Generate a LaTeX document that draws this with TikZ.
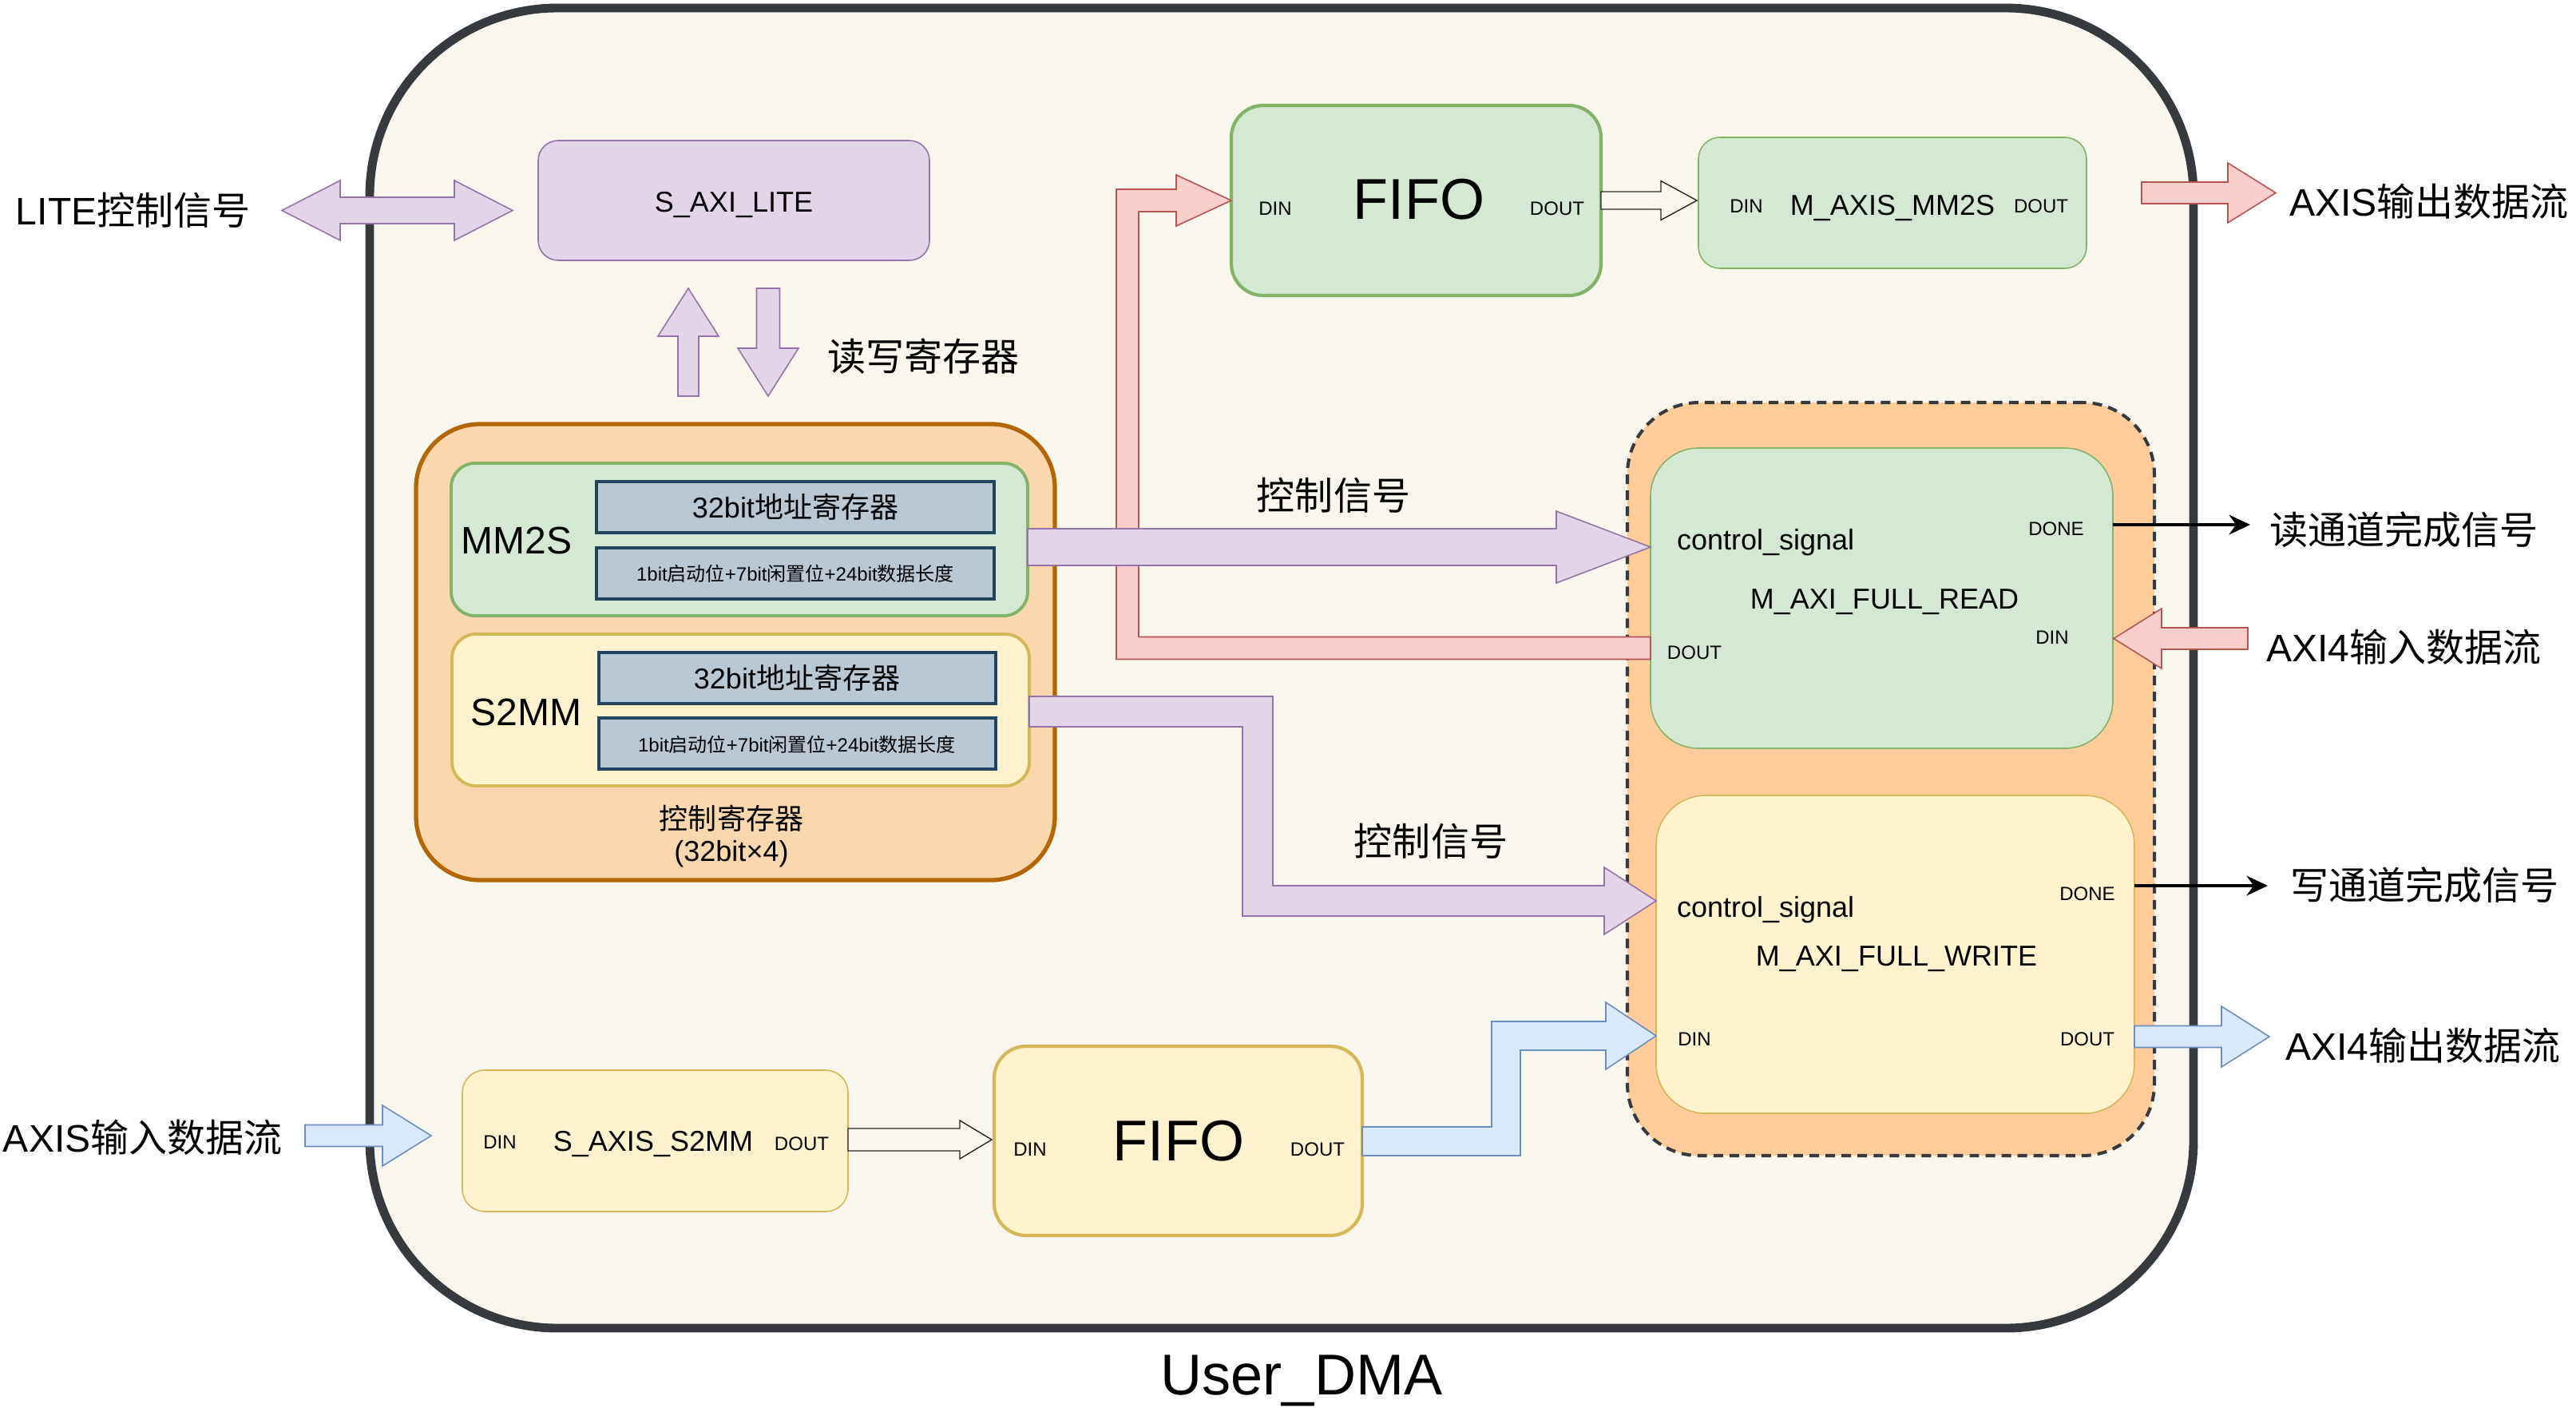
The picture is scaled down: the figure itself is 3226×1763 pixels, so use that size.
\documentclass[tikz,border=0pt]{standalone}
\usepackage{fontspec}
\setmainfont{Liberation Sans}
\newfontfamily\zh{Noto Sans CJK SC}
\usetikzlibrary{arrows.meta,fit}

\definecolor{cream}{HTML}{F9F7ED}
\definecolor{dmaS}{HTML}{36393D}
\definecolor{lavF}{HTML}{E1D5E7}
\definecolor{lavS}{HTML}{9673A6}
\definecolor{grnF}{HTML}{D5E8D4}
\definecolor{grnS}{HTML}{82B366}
\definecolor{yelF}{HTML}{FFF2CC}
\definecolor{yelS}{HTML}{D6B656}
\definecolor{ctrlF}{HTML}{FAD7AC}
\definecolor{ctrlS}{HTML}{B46504}
\definecolor{grpF}{HTML}{FFCC99}
\definecolor{regF}{HTML}{BAC8D3}
\definecolor{regS}{HTML}{23445D}
\definecolor{pinkF}{HTML}{F8CECC}
\definecolor{pinkS}{HTML}{B85450}
\definecolor{blueF}{HTML}{DAE8FC}
\definecolor{blueS}{HTML}{6C8EBF}

\newcommand\szA{\fontsize{20.5pt}{24pt}\selectfont}
\newcommand\szB{\fontsize{13.66pt}{16pt}\selectfont}
\newcommand\szC{\fontsize{10.24pt}{12.5pt}\selectfont}
\newcommand\szD{\fontsize{6.83pt}{8pt}\selectfont}

% horizontal block arrow: style, x tail, x head base, x tip, y centre, body half, head half
\newcommand\blockH[7]{%
  \draw[#1] (#2,{#5-#6}) -- (#3,{#5-#6}) -- (#3,{#5-#7}) -- (#4,#5) -- (#3,{#5+#7}) -- (#3,{#5+#6}) -- (#2,{#5+#6}) -- cycle;}
% vertical block arrow: style, y tail, y head base, y tip, x centre, body half, head half
\newcommand\blockV[7]{%
  \draw[#1] ({#5-#6},#2) -- ({#5-#6},#3) -- ({#5-#7},#3) -- (#5,#4) -- ({#5+#7},#3) -- ({#5+#6},#3) -- ({#5+#6},#2) -- cycle;}

\begin{document}
\begin{tikzpicture}[x=0.01cm,y=-0.01cm,
  boxb/.style={inner sep=0pt, outer sep=0pt},
  txt/.style={inner sep=0pt, outer sep=0pt, text=black},
  lav/.style={fill=lavF, draw=lavS, line width=0.45pt},
  pinkA/.style={fill=pinkF, draw=pinkS, line width=0.45pt},
  blueA/.style={fill=blueF, draw=blueS, line width=0.45pt},
  openA/.style={fill=cream, draw=black!85, line width=0.4pt},
  doneA/.style={draw=black, line width=1.2pt, -{Stealth[length=7.5pt,width=7pt]}},
  ]
\useasboundingbox (0,0) rectangle (3226,1763);

% ---------- outer container ----------
\node[boxb, fit={(463,10) (2747,1663)}, draw=dmaS, fill=cream, line width=3.1pt, rounded corners=2.35cm] (dma) {};
\node[txt] (dmaT) at (1630,1729) {\szA User\_DMA};

% ---------- S_AXI_LITE ----------
\node[txt, anchor=west] (liteT) at (20,263) {\szB LITE{\zh 控制信号}};
\node[boxb, fit={(674,176) (1164,326)}, draw=lavS, fill=lavF, line width=0.45pt, rounded corners=0.25cm] (lite) {};
\node[txt] (liteL) at (919,256) {\szC S\_AXI\_LITE};
\draw[lav] (353,263.5) -- (426,226) -- (426,247) -- (569,247) -- (569,226) -- (642,263.5)
  -- (569,301) -- (569,280) -- (426,280) -- (426,301) -- cycle;

% read/write register arrows
\blockV{lav}{496}{421}{361}{862}{13}{38}
\blockV{lav}{361}{436}{496}{962}{14.5}{38}
\node[txt, anchor=west] (rwT) at (1036,446) {\szB\zh 读写寄存器};

% ---------- control registers ----------
\node[boxb, fit={(521,531) (1321,1102)}, draw=ctrlS, fill=ctrlF, line width=1.5pt, rounded corners=0.8cm] (ctrl) {};
\node[boxb, fit={(565,580) (1287,771)}, draw=grnS, fill=grnF, line width=1.1pt, rounded corners=0.3cm] (mm2s) {};
\node[boxb, fit={(747,603) (1245,667)}, draw=regS, fill=regF, line width=1.1pt] (r1) {};
\node[boxb, fit={(747,686) (1245,750)}, draw=regS, fill=regF, line width=1.1pt] (r2) {};
\node[txt] (r1T) at (996,635) {\szC 32bit{\zh 地址寄存器}};
\node[txt] (r2T) at (996,718) {\szD 1bit{\zh 启动位}+7bit{\zh 闲置位}+24bit{\zh 数据长度}};
\node[txt] (mm2sT) at (647,677) {\szB MM2S};

\node[boxb, fit={(566,794) (1289,984)}, draw=yelS, fill=yelF, line width=1.1pt, rounded corners=0.3cm] (s2mm) {};
\node[boxb, fit={(750,817) (1247,881)}, draw=regS, fill=regF, line width=1.1pt] (r3) {};
\node[boxb, fit={(750,899) (1247,963)}, draw=regS, fill=regF, line width=1.1pt] (r4) {};
\node[txt] (r3T) at (998,849) {\szC 32bit{\zh 地址寄存器}};
\node[txt] (r4T) at (998,932) {\szD 1bit{\zh 启动位}+7bit{\zh 闲置位}+24bit{\zh 数据长度}};
\node[txt] (s2mmT) at (659,892) {\szB S2MM};

\node[txt] (ctrlT1) at (916,1025) {\szC\zh 控制寄存器};
\node[txt] (ctrlT2) at (916,1069) {\szC (32bit×4)};

% ---------- top FIFO / M_AXIS_MM2S ----------
\node[boxb, fit={(1542,132) (2005,370)}, draw=grnS, fill=grnF, line width=1.2pt, rounded corners=0.4cm] (fifoA) {};
\node[txt] (fifoAT) at (1777,250) {\szA FIFO};
\node[txt] (fifoAi) at (1597,261) {\szD DIN};
\node[txt] (fifoAo) at (1950,261) {\szD DOUT};

\node[boxb, fit={(2127,172) (2613,336)}, draw=grnS, fill=grnF, line width=0.45pt, rounded corners=0.27cm] (maxis) {};
\node[txt] (maxisT) at (2370,261) {\szC M\_AXIS\_MM2S};
\node[txt] (maxisi) at (2187,258) {\szD DIN};
\node[txt] (maxiso) at (2556,258) {\szD DOUT};
\blockH{openA}{2005}{2080}{2125}{251}{11}{24.5}

% ---------- bottom S_AXIS_S2MM / FIFO ----------
\node[boxb, fit={(579,1340) (1062,1517)}, draw=yelS, fill=yelF, line width=0.45pt, rounded corners=0.28cm] (saxis) {};
\node[txt] (saxisT) at (818,1432) {\szC S\_AXIS\_S2MM};
\node[txt] (saxisi) at (626,1430) {\szD DIN};
\node[txt] (saxiso) at (1004,1432) {\szD DOUT};

\node[boxb, fit={(1245,1310) (1706,1547)}, draw=yelS, fill=yelF, line width=1.2pt, rounded corners=0.4cm] (fifoB) {};
\node[txt] (fifoBT) at (1476,1429) {\szA FIFO};
\node[txt] (fifoBi) at (1290,1439) {\szD DIN};
\node[txt] (fifoBo) at (1650,1439) {\szD DOUT};
\blockH{openA}{1062}{1202}{1242}{1427}{14}{24}

% ---------- AXI full group ----------
\node[boxb, fit={(2038,504) (2698,1447)}, draw=dmaS, fill=grpF, line width=1.15pt, dash pattern=on 3.4pt off 2.3pt, rounded corners=0.9cm] (grp) {};
\node[boxb, fit={(2067,561) (2646,937)}, draw=grnS, fill=grnF, line width=0.45pt, rounded corners=0.6cm] (rd) {};
\node[boxb, fit={(2074,996) (2673,1394)}, draw=yelS, fill=yelF, line width=0.45pt, rounded corners=0.62cm] (wr) {};

\node[txt, anchor=west] (rdC) at (2100,679) {\szC control\_signal};
\node[txt] (rdT) at (2360,754) {\szC M\_AXI\_FULL\_READ};
\node[txt] (rdDone) at (2575,662) {\szD DONE};
\node[txt] (rdDin) at (2570,798) {\szD DIN};
\node[txt] (rdDout) at (2122,817) {\szD DOUT};

\node[txt, anchor=west] (wrC) at (2100,1139) {\szC control\_signal};
\node[txt] (wrT) at (2375,1201) {\szC M\_AXI\_FULL\_WRITE};
\node[txt] (wrDone) at (2614,1119) {\szD DONE};
\node[txt] (wrDin) at (2122,1301) {\szD DIN};
\node[txt] (wrDout) at (2614,1301) {\szD DOUT};

% ---------- block arrows ----------
% pink L arrow: READ DOUT -> top FIFO DIN
\draw[pinkA] (2067,797.5) -- (1426,797.5) -- (1426,265) -- (1473,265) -- (1473,283) -- (1542,251)
  -- (1473,219) -- (1473,237) -- (1398,237) -- (1398,825.5) -- (2067,825.5) -- cycle;
% lavender control arrows
\blockH{lav}{1287}{1949}{2067}{685}{23}{45}
\draw[lav] (1289,872) -- (1594,872) -- (1594,1109) -- (2009,1109) -- (2009,1086) -- (2074,1128)
  -- (2009,1170) -- (2009,1147) -- (1556,1147) -- (1556,910) -- (1289,910) -- cycle;
\node[txt] (ctlT1) at (1670,620) {\szB\zh 控制信号};
\node[txt] (ctlT2) at (1792,1053) {\szB\zh 控制信号};
% blue L arrow: bottom FIFO DOUT -> WRITE DIN
\draw[blueA] (1706,1411) -- (1868,1411) -- (1868,1279) -- (2011,1279) -- (2011,1255) -- (2074,1297)
  -- (2011,1339) -- (2011,1315) -- (1904,1315) -- (1904,1447) -- (1706,1447) -- cycle;

% external arrows
\blockH{pinkA}{2682}{2790}{2850}{241.5}{13.5}{37.5}
\node[txt, anchor=west] (axisOut) at (2867,252) {\szB AXIS{\zh 输出数据流}};

\blockH{pinkA}{2815}{2707}{2647}{799.5}{13.5}{37.5}
\node[txt, anchor=west] (axi4In) at (2838,810) {\szB AXI4{\zh 输入数据流}};

\blockH{blueA}{2673}{2782}{2842}{1298}{13.5}{38}
\node[txt, anchor=west] (axi4Out) at (2862,1309) {\szB AXI4{\zh 输出数据流}};

\blockH{blueA}{382}{479}{540}{1422}{13.5}{38}
\node[txt, anchor=west] (axisIn) at (4,1424) {\szB AXIS{\zh 输入数据流}};

% done signals
\coordinate (rdEnd) at (2818,657);
\coordinate (wrEnd) at (2840,1109);
\draw[doneA] (rd.east |- rdEnd) -- (rdEnd);
\draw[doneA] (wr.east |- wrEnd) -- (wrEnd);
\node[txt, anchor=west] (rdDoneT) at (2842,663) {\szB\zh 读通道完成信号};
\node[txt, anchor=west] (wrDoneT) at (2868,1108) {\szB\zh 写通道完成信号};

\end{tikzpicture}
\end{document}
